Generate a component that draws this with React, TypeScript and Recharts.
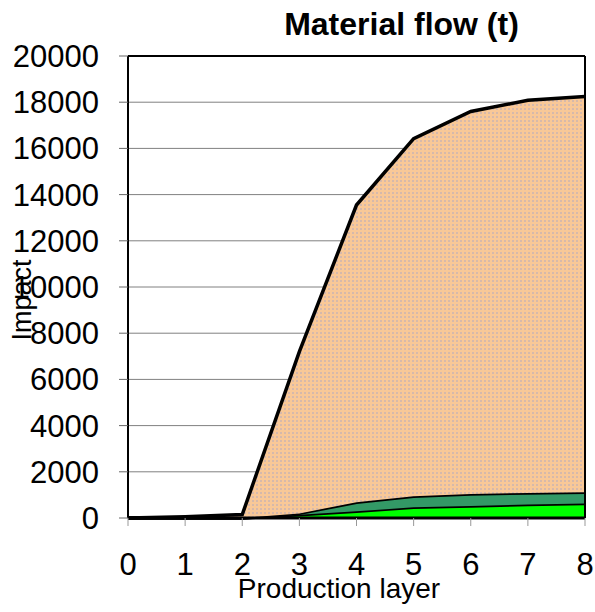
import { AreaChart, Area, XAxis, YAxis, CartesianGrid, ReferenceLine } from "recharts";

// production layers along the x axis
const layers = [0, 1, 2, 3, 4, 5, 6, 7, 8];

// stacked material flow per layer (t), bottom to top
const greenLayer = [0, 0, 0, 140, 290, 460, 520, 580, 630];
const darkGreenLayer = [0, 0, 0, 60, 390, 480, 520, 505, 480];
const peachLayer = [0, 50, 150, 7000, 12870, 15480, 16560, 16995, 17140];

const yTicks = [0, 2000, 4000, 6000, 8000, 10000, 12000, 14000, 16000, 18000, 20000];

const data = layers.map((layer, i) => ({
   layer,
   green: greenLayer[i],
   darkGreen: darkGreenLayer[i],
   peach: peachLayer[i],
}));

const FONT = "'Liberation Sans', Arial, sans-serif";

const App = () => {
   return (
      // pinned to the page corner so the body margin doesn't push it into scrollbars
      <div style={{ position: "absolute", left: 0, top: 0, width: 595, height: 612 }}>
         <AreaChart
            width={595}
            height={612}
            data={data}
            margin={{ top: 56, right: 10, bottom: 34, left: 0 }}
         >
            <defs>
               <pattern id="peachDots" width={4} height={4} patternUnits="userSpaceOnUse">
                  <rect width={4} height={4} fill="#F9C897" />
                  <rect x={0} y={0} width={2} height={2} fill="#D6B9AB" />
               </pattern>
            </defs>
            <CartesianGrid vertical={false} stroke="#808080" strokeWidth={1} />
            <XAxis
               dataKey="layer"
               type="number"
               domain={[0, 8]}
               ticks={layers}
               height={60}
               tickSize={8}
               tickMargin={27}
               axisLine={{ stroke: "#000", strokeWidth: 3 }}
               tickLine={{ stroke: "#999" }}
               tick={{ fill: "#000", fontSize: 31, fontFamily: FONT }}
            />
            <YAxis
               type="number"
               domain={[0, 20000]}
               ticks={yTicks}
               width={128}
               tickSize={9}
               tickMargin={20}
               interval={0}
               axisLine={{ stroke: "#000", strokeWidth: 2 }}
               tickLine={{ stroke: "#666" }}
               tick={{ fill: "#000", fontSize: 31, fontFamily: FONT }}
            />
            <Area
               type="linear"
               dataKey="green"
               stackId="flow"
               fill="#00FF00"
               fillOpacity={1}
               stroke="#000"
               strokeWidth={3.5}
               isAnimationActive={false}
            />
            <Area
               type="linear"
               dataKey="darkGreen"
               stackId="flow"
               fill="#339966"
               fillOpacity={1}
               stroke="#000"
               strokeWidth={3.5}
               isAnimationActive={false}
            />
            <Area
               type="linear"
               dataKey="peach"
               stackId="flow"
               fill="url(#peachDots)"
               fillOpacity={1}
               stroke="#000"
               strokeWidth={3.5}
               isAnimationActive={false}
            />
            <ReferenceLine y={20000} stroke="#000" strokeWidth={2} />
            <ReferenceLine x={8} stroke="#000" strokeWidth={2} />
            <text
               x={401.5}
               y={35}
               textAnchor="middle"
               fontFamily={FONT}
               fontWeight="bold"
               fontSize={32}
               fill="#000"
            >
               Material flow (t)
            </text>
            <text
               x={339}
               y={598}
               textAnchor="middle"
               fontFamily={FONT}
               fontSize={28}
               fill="#000"
            >
               Production layer
            </text>
            <text
               transform="translate(31, 300) rotate(-90)"
               textAnchor="middle"
               fontFamily={FONT}
               fontSize={27}
               fill="#000"
            >
               Impact
            </text>
         </AreaChart>
      </div>
   );
};

export default App;
